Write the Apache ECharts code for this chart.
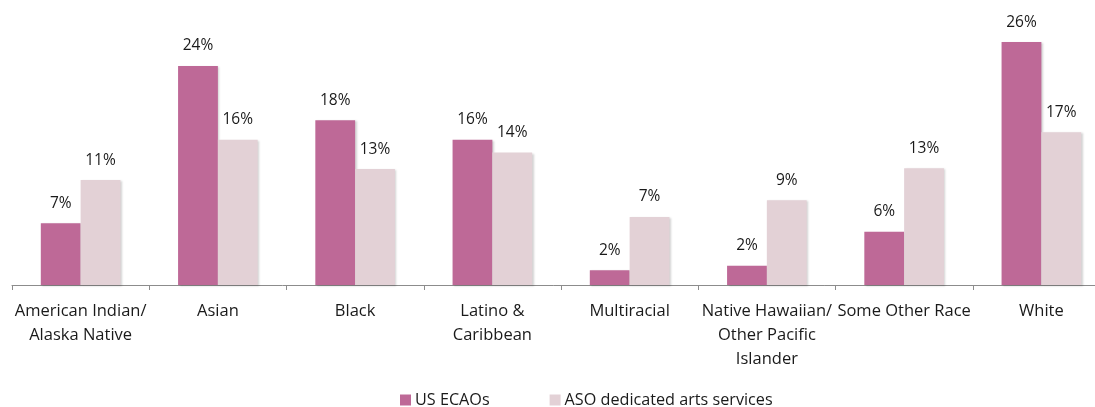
<!DOCTYPE html>
<html><head><meta charset="utf-8">
<script src="https://cdn.jsdelivr.net/npm/echarts@6/dist/echarts.min.js"></script>
<style>html,body{margin:0;padding:0;background:#fff}#c{width:1095px;height:407px}</style>
</head><body><div id="c"></div>
<script>
const categories = ["American Indian/\nAlaska Native","Asian","Black","Latino &\nCaribbean","Multiracial","Native Hawaiian/\nOther Pacific\nIslander","Some Other Race","White"];
const seriesNames = ["US ECAOs","ASO dedicated arts services"];
const usEcaos = [6.7, 23.8, 17.9, 15.8, 1.6, 2.1, 5.8, 26.4];
const asoServices = [11.4, 15.8, 12.6, 14.4, 7.4, 9.2, 12.7, 16.6];
const colors = ["#be6997", "#e3d1d6"];

const chart = echarts.init(document.getElementById('c'), null, {renderer:'canvas'});
const font = "'Open Sans', 'Liberation Sans', sans-serif";
const mk = (name, data, color) => ({
  name, type:'bar', data, barWidth:'29%', barGap:'0%',
  itemStyle:{color, shadowColor:'rgba(0,0,0,0.18)', shadowBlur:2, shadowOffsetX:1.5, shadowOffsetY:1},
  label:{show:true, position:'top', distance:12, color:'#1a1a1a', fontFamily:font, fontSize:15.5,
    formatter:p=>Math.round(p.value)+'%'}
});
chart.setOption({
  animation:false,
  grid:{left:12, width:1098, top:9, bottom:122, containLabel:false, outerBoundsMode:'none'},
  legend:{top:387, left:395, itemWidth:11, itemHeight:11, itemGap:60,
    icon:'rect', textStyle:{fontFamily:font, fontSize:16.2, color:'#1a1a1a', padding:[0,0,0,-1]}, data:seriesNames},
  xAxis:{type:'category', data:categories,
    axisLine:{lineStyle:{color:'#8c8c8c', width:1}},
    axisTick:{show:true, length:5, lineStyle:{color:'#8c8c8c'}},
    axisLabel:{interval:0, margin:14, color:'#1a1a1a', fontFamily:font, fontSize:16.5, lineHeight:24}},
  yAxis:{type:'value', min:0, max:30, show:false, splitLine:{show:false}},
  series:[mk(seriesNames[0], usEcaos, colors[0]), mk(seriesNames[1], asoServices, colors[1])]
});
</script></body></html>
